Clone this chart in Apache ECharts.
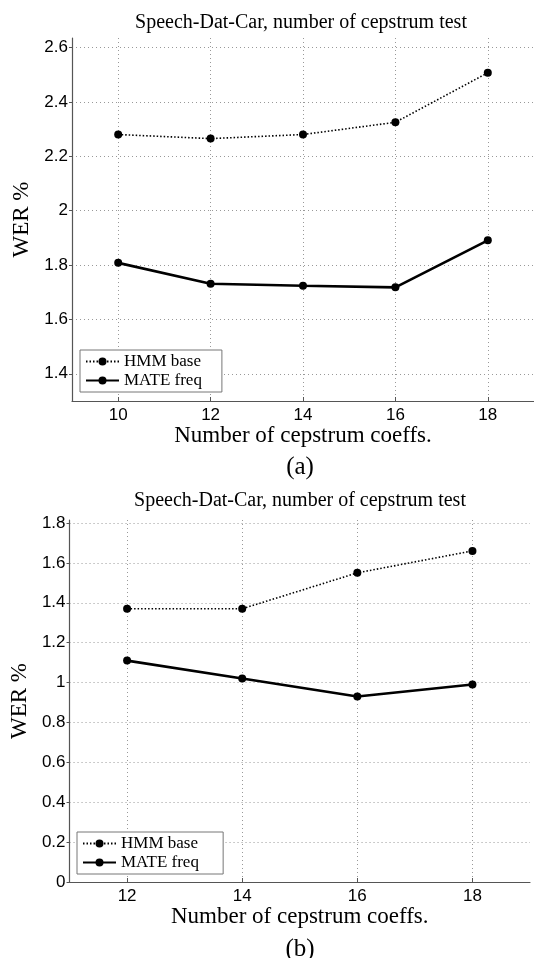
<!DOCTYPE html>
<html>
<head>
<meta charset="utf-8">
<script src="https://cdn.jsdelivr.net/npm/echarts@6/dist/echarts.min.js"></script>
<style>
  html, body { margin: 0; padding: 0; background: #fff; }
  #chart { width: 534px; height: 958px; }
</style>
</head>
<body>
<div id="chart"></div>
<script>
// Panel (a): WER vs number of cepstrum coefficients
const coeffsA = [10, 12, 14, 16, 18];
const hmmA = [2.28, 2.265, 2.28, 2.325, 2.507];
const mateA = [1.808, 1.731, 1.724, 1.718, 1.891];
const yTicksA = [1.4, 1.6, 1.8, 2, 2.2, 2.4, 2.6];

// Panel (b)
const coeffsB = [12, 14, 16, 18];
const hmmB = [1.37, 1.37, 1.55, 1.66];
const mateB = [1.11, 1.02, 0.93, 0.99];
const yTicksB = [0, 0.2, 0.4, 0.6, 0.8, 1, 1.2, 1.4, 1.6, 1.8];

const titleText = 'Speech-Dat-Car, number of cepstrum test';
const xName = 'Number of cepstrum coeffs.';
const yName = 'WER %';
const seriesNames = ['HMM base', 'MATE freq'];

const SERIF = '"Liberation Serif", "Times New Roman", serif';
const SANS = '"Liberation Sans", Arial, sans-serif';

const pairs = (xs, ys) => xs.map((x, i) => [x, ys[i]]);

function xAxisFor(gridIndex, min, max, ticks) {
  return {
    type: 'value', gridIndex, min, max,
    name: xName, nameLocation: 'middle', nameGap: 21,
    nameTextStyle: { fontFamily: SERIF, fontSize: 23, color: '#000' },
    axisLine: { show: true, lineStyle: { color: '#555', width: 1.2 } },
    axisTick: { show: true, inside: true, length: 4, customValues: ticks, lineStyle: { color: '#555' } },
    axisLabel: { customValues: ticks, margin: 6, fontFamily: SANS, fontSize: 17, color: '#000' },
    splitLine: { show: true, lineStyle: { color: '#999', type: [1, 3], width: 1 } }
  };
}
function yAxisFor(gridIndex, min, max, ticks) {
  return {
    type: 'value', gridIndex, min, max,
    name: yName, nameLocation: 'middle', nameGap: 33, nameRotate: 90,
    nameTextStyle: { fontFamily: SERIF, fontSize: 23, color: '#000' },
    axisLine: { show: true, lineStyle: { color: '#555', width: 1.2 } },
    axisTick: { show: true, inside: false, length: 3, customValues: ticks, lineStyle: { color: '#555' } },
    axisLabel: { customValues: ticks, margin: 4, fontFamily: SANS, fontSize: 17, color: '#000',
                 formatter: v => String(+v.toFixed(1)) },
    splitLine: { show: true, lineStyle: { color: '#999', type: [1, 3], width: 1 } }
  };
}
function lineSeries(name, data, idx, dotted) {
  return {
    type: 'line', name, data, xAxisIndex: idx, yAxisIndex: idx,
    symbol: 'circle', symbolSize: 8, showSymbol: true,
    itemStyle: { color: '#000' },
    lineStyle: dotted ? { color: '#000', width: 1.6, type: [1.5, 2] } : { color: '#000', width: 2.6 },
    z: dotted ? 3 : 4,
    animation: false
  };
}
function legendFor(gridIndex, left, top) {
  return {
    orient: 'vertical', left, top, padding: [3, 20, 3, 5], itemGap: 2,
    itemWidth: 33, itemHeight: 10,
    backgroundColor: '#fff', borderColor: '#777', borderWidth: 1, borderRadius: 0,
    textStyle: { fontFamily: SERIF, fontSize: 17, color: '#000' },
    data: seriesNames.map(n => ({ name: n + (gridIndex ? ' ' : '') }))
  };
}

const chart = echarts.init(document.getElementById('chart'), null, { renderer: 'canvas' });
chart.setOption({
  backgroundColor: '#fff',
  animation: false,
  title: [
    { text: titleText, left: 296, top: 8, textAlign: 'center',
      textStyle: { fontFamily: SERIF, fontSize: 20, fontWeight: 'normal', color: '#000' } },
    { text: '(a)', left: 295, top: 450, textAlign: 'center',
      textStyle: { fontFamily: SERIF, fontSize: 25, fontWeight: 'normal', color: '#000' } },
    { text: titleText, left: 295, top: 486, textAlign: 'center',
      textStyle: { fontFamily: SERIF, fontSize: 20, fontWeight: 'normal', color: '#000' } },
    { text: '(b)', left: 295, top: 932, textAlign: 'center',
      textStyle: { fontFamily: SERIF, fontSize: 25, fontWeight: 'normal', color: '#000' } }
  ],
  grid: [
    { left: 72, top: 38, width: 462, height: 363 },
    { left: 68, top: 520, width: 462, height: 362 }
  ],
  xAxis: [ xAxisFor(0, 9, 19, coeffsA), xAxisFor(1, 11, 19, coeffsB) ],
  yAxis: [ yAxisFor(0, 1.3, 2.635, yTicksA), yAxisFor(1, 0, 1.815, yTicksB) ],
  legend: [ legendFor(0, 80, 350), legendFor(1, 77, 832) ],
  series: [
    lineSeries(seriesNames[0], pairs(coeffsA, hmmA), 0, true),
    lineSeries(seriesNames[1], pairs(coeffsA, mateA), 0, false),
    lineSeries(seriesNames[0] + ' ', pairs(coeffsB, hmmB), 1, true),
    lineSeries(seriesNames[1] + ' ', pairs(coeffsB, mateB), 1, false)
  ]
});
</script>
</body>
</html>
